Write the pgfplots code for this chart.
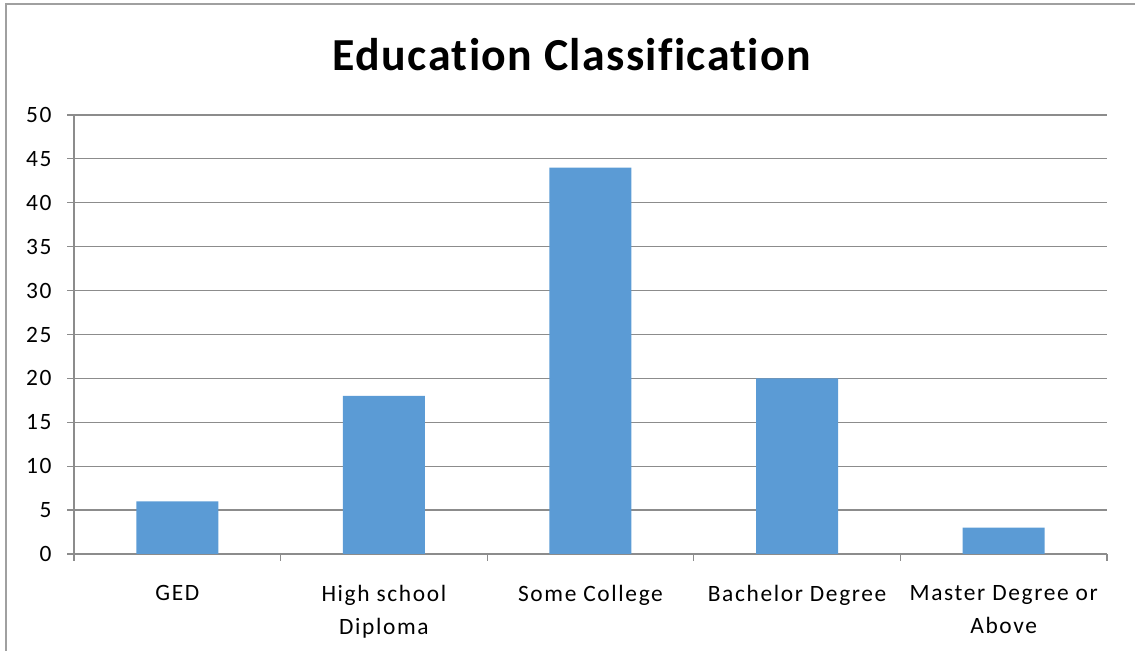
\documentclass[border=0pt]{standalone}
\usepackage{fontspec}
\setmainfont{Carlito}[LetterSpace=7, Ligatures=CommonOff]
\newfontfamily\titlefont{Carlito}[LetterSpace=3, Ligatures=CommonOff]
\usepackage{pgfplots}
\pgfplotsset{compat=1.18}
\definecolor{barblue}{HTML}{5B9BD5}
\definecolor{gridgray}{HTML}{8C8C8C}
\definecolor{bordergray}{HTML}{A0A0A0}
\begin{document}
\begin{tikzpicture}[x=1bp,y=1bp]
\path[use as bounding box] (0,0) rectangle (1135,651);
\draw[color=bordergray, line width=1.5bp] (6,0) -- (6,647) -- (1135,647);
\node[font=\titlefont\fontsize{46}{52}\selectfont\bfseries] at (572,596) {Education Classification};
\begin{axis}[
  at={(74bp,97bp)}, anchor=south west, scale only axis,
  width=1033bp, height=439bp,
  ymin=0, ymax=50, ytick={0,5,...,50},
  xmin=-0.5, xmax=4.5,
  xtick={-0.5,0.5,1.5,2.5,3.5,4.5},
  xticklabels={},
  extra x ticks={0,1,2,3,4},
  extra x tick labels={GED,{High school\\Diploma},Some College,Bachelor Degree,{Master Degree or\\Above}},
  extra x tick style={major tick length=0pt, grid=none},
  axis x line*=bottom, axis y line*=left,
  axis line style={draw=gridgray, line width=1.2bp},
  ymajorgrids, grid style={draw=gridgray, line width=1.2bp},
  tick style={draw=gridgray, line width=1.2bp},
  major tick length=7bp, tick align=outside,
  tick label style={font=\fontsize{23.5}{33}\selectfont},
  xticklabel style={align=center, yshift=-28bp},
  yticklabel style={xshift=-12bp},
  /pgf/number format/assume math mode=true,
  ybar, bar width=82bp,
]
\addplot[fill=barblue, draw=none] coordinates {(0,6) (1,18) (2,44) (3,20) (4,3)};
\end{axis}
\end{tikzpicture}
\end{document}
